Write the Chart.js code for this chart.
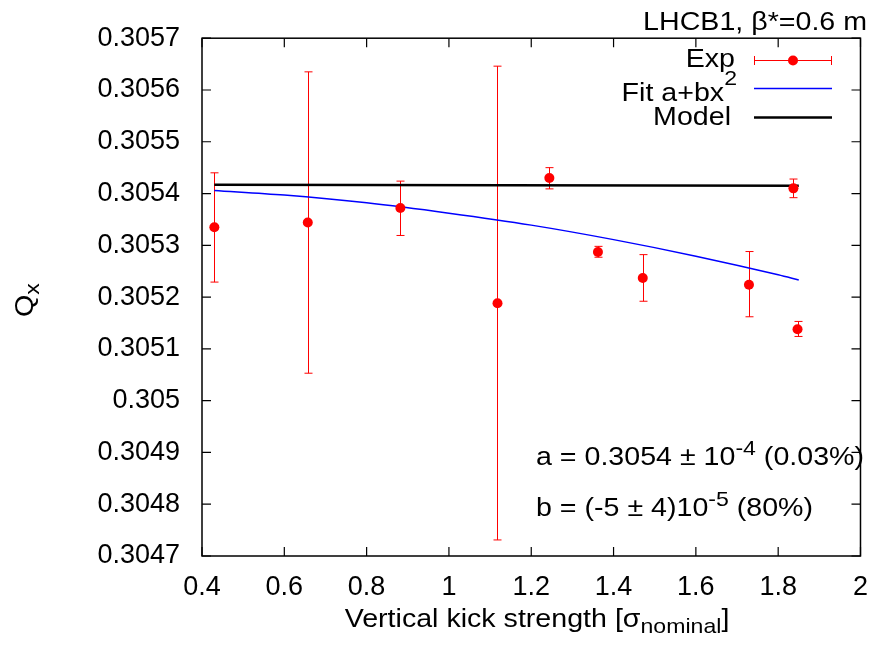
<!DOCTYPE html>
<html>
<head>
<meta charset="utf-8">
<script src="https://cdn.jsdelivr.net/npm/chart.js@4.4.1/dist/chart.umd.min.js"></script>
<style>
  html, body { margin: 0; padding: 0; background: #ffffff; }
  #wrap { width: 883px; height: 646px; position: relative; }
</style>
</head>
<body>
<div id="wrap"><canvas id="tune-chart"></canvas></div>
<script>
// Values
var expX    = [0.430, 0.657, 0.882, 1.118, 1.244, 1.362, 1.471, 1.729, 1.837, 1.847];
var expY    = [0.305335, 0.305344, 0.305372, 0.305188, 0.305430, 0.305287, 0.305237, 0.305224, 0.305410, 0.305138];
var expLow  = [0.305229, 0.305053, 0.305319, 0.304731, 0.305409, 0.305277, 0.305192, 0.305162, 0.305392, 0.305124];
var expHigh = [0.305440, 0.305635, 0.305424, 0.305646, 0.305450, 0.305298, 0.305282, 0.305288, 0.305428, 0.305153];

var fitX = [0.43, 0.6, 0.8, 1.0, 1.2, 1.4, 1.6, 1.8, 1.85];
var fitY = [0.305406, 0.305397, 0.305382, 0.305362, 0.305339, 0.305311, 0.305279, 0.305243, 0.305233];

var modelX = [0.43, 1.85];
var modelY = [0.305417, 0.305415];

var xTicks = [0.4, 0.6, 0.8, 1.0, 1.2, 1.4, 1.6, 1.8, 2.0];
var yTicks = [0.3047, 0.3048, 0.3049, 0.3050, 0.3051, 0.3052, 0.3053, 0.3054, 0.3055, 0.3056, 0.3057];

var FONT = '"Liberation Sans", Arial, Helvetica, sans-serif';
var STRETCH = 1.1; // the reference text is a bit wide

function toPoints(xs, ys) {
  var out = [];
  for (var i = 0; i < xs.length; i++) out.push({ x: xs[i], y: ys[i] });
  return out;
}

// draws text made of pieces (for super/subscripts)
function drawRich(ctx, parts, x, y, align) {
  var w = 0;
  var widths = [];
  for (var i = 0; i < parts.length; i++) {
    ctx.font = parts[i].size + 'px ' + FONT;
    var pw = ctx.measureText(parts[i].text).width * STRETCH;
    widths.push(pw);
    w += pw;
  }
  var cx = x;
  if (align === 'right') cx = x - w;
  else if (align === 'center') cx = x - w / 2;
  for (var j = 0; j < parts.length; j++) {
    ctx.save();
    ctx.font = parts[j].size + 'px ' + FONT;
    ctx.translate(cx, y + (parts[j].dy || 0));
    ctx.scale(STRETCH, 1);
    ctx.fillText(parts[j].text, 0, 0);
    ctx.restore();
    cx += widths[j];
  }
}

var errorBars = {
  id: 'errorBars',
  beforeDatasetsDraw: function(chart) {
    var ctx = chart.ctx, xs = chart.scales.x, ys = chart.scales.y;
    ctx.save();
    ctx.strokeStyle = '#ff0000';
    ctx.lineWidth = 1;
    for (var i = 0; i < expX.length; i++) {
      var px = Math.round(xs.getPixelForValue(expX[i])) + 0.5;
      var lo = ys.getPixelForValue(expLow[i]);
      var hi = ys.getPixelForValue(expHigh[i]);
      ctx.beginPath();
      ctx.moveTo(px, lo); ctx.lineTo(px, hi);
      ctx.moveTo(px - 4, lo); ctx.lineTo(px + 4, lo);
      ctx.moveTo(px - 4, hi); ctx.lineTo(px + 4, hi);
      ctx.stroke();
    }
    ctx.restore();
  }
};

var frameAndText = {
  id: 'frameAndText',
  afterDraw: function(chart) {
    var ctx = chart.ctx, a = chart.chartArea;
    var xs = chart.scales.x, ys = chart.scales.y;
    ctx.save();
    // border with inward ticks on all four sides
    ctx.strokeStyle = '#000000';
    ctx.lineWidth = 1.5;
    ctx.strokeRect(a.left, a.top, a.right - a.left, a.bottom - a.top);
    ctx.lineWidth = 1.2;
    ctx.beginPath();
    for (var i = 0; i < xTicks.length; i++) {
      var px = xs.getPixelForValue(xTicks[i]);
      ctx.moveTo(px, a.bottom); ctx.lineTo(px, a.bottom - 9);
      ctx.moveTo(px, a.top); ctx.lineTo(px, a.top + 9);
    }
    for (var j = 0; j < yTicks.length; j++) {
      var py = ys.getPixelForValue(yTicks[j]);
      ctx.moveTo(a.left, py); ctx.lineTo(a.left + 9, py);
      ctx.moveTo(a.right, py); ctx.lineTo(a.right - 9, py);
    }
    ctx.stroke();

    ctx.fillStyle = '#000000';
    ctx.textAlign = 'left';
    ctx.textBaseline = 'alphabetic';

    // title
    drawRich(ctx, [{ text: 'LHCB1, \u03b2*=0.6 m', size: 26 }], 867, 30, 'right');

    // x axis title
    drawRich(ctx, [
      { text: 'Vertical kick strength [\u03c3', size: 26 },
      { text: 'nominal', size: 21, dy: 6 },
      { text: ']', size: 26 }
    ], 537, 627, 'center');

    // y axis title, rotated
    ctx.save();
    ctx.translate(33, 300);
    ctx.rotate(-Math.PI / 2);
    drawRich(ctx, [
      { text: 'Q', size: 26 },
      { text: 'x', size: 21, dy: 6 }
    ], 0, 0, 'center');
    ctx.restore();

    // fit result annotations
    drawRich(ctx, [
      { text: 'a = 0.3054 \u00b1 10', size: 26 },
      { text: '-4', size: 21, dy: -10 },
      { text: ' (0.03%)', size: 26 }
    ], 536, 465, 'left');
    drawRich(ctx, [
      { text: 'b = (-5 \u00b1 4)10', size: 26 },
      { text: '-5', size: 21, dy: -10 },
      { text: ' (80%)', size: 26 }
    ], 536, 516, 'left');

    // legend, gnuplot style: text right-aligned, sample on its right
    drawRich(ctx, [{ text: 'Exp', size: 26 }], 735, 67, 'right');
    drawRich(ctx, [{ text: 'Fit a+bx', size: 26 }, { text: '2', size: 21, dy: -16 }], 737, 101, 'right');
    drawRich(ctx, [{ text: 'Model', size: 26 }], 731, 125, 'right');

    ctx.strokeStyle = '#ff0000';
    ctx.lineWidth = 1;
    ctx.beginPath();
    ctx.moveTo(754, 60.5); ctx.lineTo(832, 60.5);
    ctx.moveTo(754.5, 56); ctx.lineTo(754.5, 65);
    ctx.moveTo(831.5, 56); ctx.lineTo(831.5, 65);
    ctx.stroke();
    ctx.fillStyle = '#ff0000';
    ctx.beginPath();
    ctx.arc(793, 60.5, 5, 0, Math.PI * 2);
    ctx.fill();

    ctx.strokeStyle = '#0000ff';
    ctx.lineWidth = 1.5;
    ctx.beginPath();
    ctx.moveTo(754, 88.5); ctx.lineTo(832, 88.5);
    ctx.stroke();

    ctx.strokeStyle = '#000000';
    ctx.lineWidth = 2.5;
    ctx.beginPath();
    ctx.moveTo(754, 117.5); ctx.lineTo(832, 117.5);
    ctx.stroke();

    ctx.restore();
  }
};

var ctx = document.getElementById('tune-chart').getContext('2d');
new Chart(ctx, {
  type: 'scatter',
  data: {
    datasets: [
      {
        label: 'Exp',
        data: toPoints(expX, expY),
        showLine: false,
        pointRadius: 5,
        pointBackgroundColor: '#ff0000',
        pointBorderWidth: 0
      },
      {
        label: 'Fit a+bx\u00b2',
        data: toPoints(fitX, fitY),
        showLine: true,
        borderColor: '#0000ff',
        borderWidth: 1.5,
        pointRadius: 0,
        cubicInterpolationMode: 'monotone',
        fill: false
      },
      {
        label: 'Model',
        data: toPoints(modelX, modelY),
        showLine: true,
        borderColor: '#000000',
        borderWidth: 2.5,
        pointRadius: 0,
        fill: false
      }
    ]
  },
  options: {
    responsive: true,
    maintainAspectRatio: false,
    animation: false,
    devicePixelRatio: 1,
    layout: { padding: { top: 36, right: 15, bottom: 0, left: 0 } },
    plugins: {
      legend: { display: false },
      tooltip: { enabled: false },
      title: { display: false }
    },
    scales: {
      x: {
        type: 'linear',
        position: 'bottom',
        min: 0.4,
        max: 2,
        grid: { display: false, drawTicks: false },
        border: { display: false },
        afterBuildTicks: function(scale) {
          scale.ticks = xTicks.map(function(v) { return { value: v }; });
        },
        afterFit: function(scale) { scale.height = 90; },
        ticks: {
          color: '#000000',
          font: { family: FONT, size: 27 },
          padding: 15,
          maxRotation: 0,
          autoSkip: false,
          callback: function(v) { return String(parseFloat(v.toFixed(1))); }
        }
      },
      y: {
        type: 'linear',
        min: 0.3047,
        max: 0.3057,
        grid: { display: false, drawTicks: false },
        border: { display: false },
        afterBuildTicks: function(scale) {
          scale.ticks = yTicks.map(function(v) { return { value: v }; });
        },
        afterFit: function(scale) { scale.width = 202; },
        ticks: {
          color: '#000000',
          font: { family: FONT, size: 27 },
          padding: 22,
          autoSkip: false,
          callback: function(v) { return String(parseFloat(v.toFixed(4))); }
        }
      }
    }
  },
  plugins: [errorBars, frameAndText]
});
</script>
</body>
</html>
